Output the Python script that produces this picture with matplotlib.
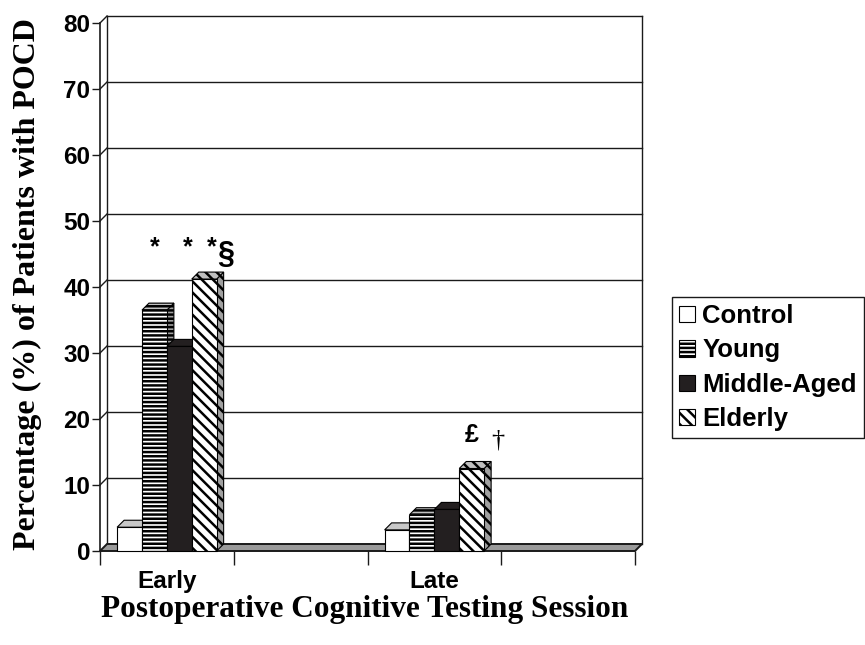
import matplotlib
matplotlib.use("Agg")
import matplotlib.pyplot as plt
from matplotlib.patches import Polygon, Patch

# ---------------- data ----------------
categories = ["Early", "Late"]
series_names = ["Control", "Young", "Middle-Aged", "Elderly"]
control = [3.6, 3.2]
young = [36.5, 5.5]
middle_aged = [31.0, 6.3]
elderly = [41.2, 12.5]
y_ticks = [0, 10, 20, 30, 40, 50, 60, 70, 80]
y_label = "Percentage (%) of Patients with POCD"
x_label = "Postoperative Cognitive Testing Session"
# significance marks: (text, x, y, size, family, weight)
annotations = [
    ("*", 0.41, 46.0, 18, "Liberation Sans", "bold"),
    ("*", 0.655, 46.0, 18, "Liberation Sans", "bold"),
    ("*", 0.835, 46.0, 18, "Liberation Sans", "bold"),
    ("§", 0.94, 44.8, 22, "Liberation Sans", "bold"),
    ("£", 2.78, 17.6, 18, "Liberation Sans", "bold"),
    ("†", 2.975, 16.8, 19, "Liberation Serif", "normal"),
]

# ---------------- styles ----------------
plt.rcParams['hatch.linewidth'] = 1.8
SANS = "Liberation Sans"
SERIF = "Liberation Serif"
styles = [
    dict(fc="white", side="#a8a8a8", top="#c8c8c8", hatch=None),
    dict(fc="white", side="#a0a0a0", top="#c0c0c0", hatch="----"),
    dict(fc="#231f20", side="#231f20", top="#231f20", hatch=None),
    dict(fc="white", side="#a0a0a0", top="#c0c0c0", hatch="\\\\\\"),
]
values = [control, young, middle_aged, elderly]

fig = plt.figure(figsize=(8.65, 6.45), dpi=100)
ax = fig.add_axes([100 / 865, 94 / 645, 535 / 865, 528 / 645])
ax.set_xlim(0, 4)
ax.set_ylim(0, 80)
for s in ax.spines.values():
    s.set_visible(False)
ax.patch.set_visible(False)

depth_px = 7
p0 = ax.transData.transform((0, 0))
p1 = ax.transData.transform((1, 1))
dx = depth_px / (p1[0] - p0[0])
dy = depth_px / (p1[1] - p0[1])
xmax = 4
ymax = 80

# floor
ax.add_patch(Polygon([(0, 0), (xmax, 0), (xmax + dx, dy), (dx, dy)], closed=True,
                     fc="#9a9a9a", ec="#1a1a1a", lw=1.4, clip_on=False, zorder=1))
# back wall & side wall
wall_kw = dict(color="#1a1a1a", lw=1.0, clip_on=False, zorder=0.5)
ax.plot([dx, dx], [dy, ymax + dy], **wall_kw)
ax.plot([xmax + dx, xmax + dx], [dy, ymax + dy], **wall_kw)
for t in y_ticks[1:]:
    ax.plot([dx, xmax + dx], [t + dy, t + dy], **wall_kw)
    ax.plot([0, dx], [t, t + dy], **wall_kw)
ax.plot([0, 0], [0, ymax], color="#1a1a1a", lw=1.2, clip_on=False, zorder=0.6)

# bars
w = 0.186
z = 2
for i, cat in enumerate(categories):
    center = 2 * i + 0.5
    for j, (vals, st) in enumerate(zip(values, styles)):
        h = vals[i]
        x0 = center + (j - 2) * w
        x1 = x0 + w
        ax.add_patch(Polygon([(x1, 0), (x1 + dx, dy), (x1 + dx, h + dy), (x1, h)], closed=True,
                             fc=st["side"], ec="black", lw=0.8, hatch=st["hatch"],
                             clip_on=False, zorder=z))
        ax.add_patch(Polygon([(x0, h), (x1, h), (x1 + dx, h + dy), (x0 + dx, h + dy)], closed=True,
                             fc=st["top"], ec="black", lw=0.8, hatch=st["hatch"],
                             clip_on=False, zorder=z + 0.1))
        ax.bar(x0, h, w, align="edge", color=st["fc"], edgecolor="black", lw=0.8,
               hatch=st["hatch"], zorder=z + 0.2, clip_on=False)
        z += 1

# ticks
ax.set_yticks(y_ticks)
ax.set_yticklabels([str(t) for t in y_ticks], fontfamily=SANS, fontweight="bold", fontsize=17.5)
ax.tick_params(axis="y", length=6, width=1, pad=1, color="#1a1a1a")
ax.set_xticks([0, 1, 2, 3, 4])
ax.set_xticklabels([])
ax.tick_params(axis="x", which="major", length=10, width=1, color="#1a1a1a")
ax.set_xticks([2 * i + 0.5 for i in range(len(categories))], minor=True)
ax.set_xticklabels(categories, minor=True, fontfamily=SANS, fontweight="bold", fontsize=17.5)
ax.tick_params(axis="x", which="minor", length=0, pad=14)

for txt, x, y, size, fam, wt in annotations:
    ax.text(x, y, txt, ha="center", va="center", fontsize=size, fontfamily=fam,
            fontweight=wt, zorder=50, clip_on=False)

fig.text(27 / 865, 1 - 284 / 645, y_label, rotation=90, ha="center", va="center",
         fontfamily=SERIF, fontweight="bold", fontsize=23)
fig.text(365 / 865, 1 - 610 / 645, x_label, ha="center", va="center",
         fontfamily=SERIF, fontweight="bold", fontsize=22.5)

handles = [Patch(fc=st["fc"], ec="black", lw=0.8, hatch=st["hatch"]) for st in styles]
leg = fig.legend(handles, series_names, loc="upper left",
                 bbox_to_anchor=(672 / 865, 1 - 297 / 645), frameon=True, fancybox=False,
                 edgecolor="#1a1a1a", framealpha=1,
                 prop=dict(family=SANS, weight="bold", size=18.5),
                 handlelength=0.6, handleheight=0.6, handletextpad=0.3,
                 borderpad=0.28, labelspacing=0.4, borderaxespad=0)
leg.get_frame().set_linewidth(1.0)

fig.savefig("out.png", dpi=100)
